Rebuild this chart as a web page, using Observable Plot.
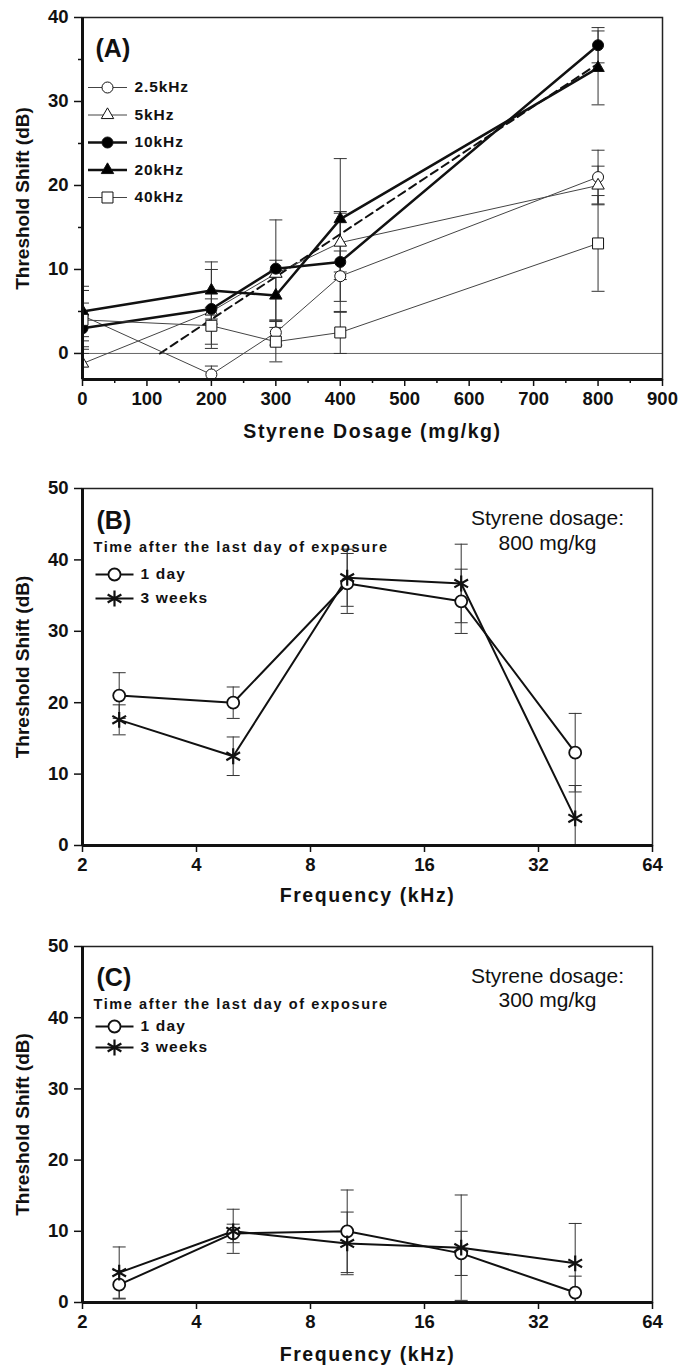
<!DOCTYPE html>
<html>
<head>
<meta charset="utf-8">
<script src="https://cdn.jsdelivr.net/npm/d3@7"></script>
<script src="https://cdn.jsdelivr.net/npm/@observablehq/plot@0.6"></script>
<style>
  html, body { margin: 0; padding: 0; background: #fff; }
  #chart { width: 690px; }
  #chart svg { display: block; }
</style>
</head>
<body>
<div id="chart"></div>
<script>
// ---------- Panel A data ----------
const dosage = [0, 200, 300, 400, 800];
const seriesA = ["2.5kHz", "5kHz", "10kHz", "20kHz", "40kHz"];
const a2_5 = [4.5, -2.5, 2.5, 9.2, 21.0];
const a5 = [-1.2, 5.0, 9.5, 13.2, 20.0];
const a10 = [3.0, 5.3, 10.1, 10.9, 36.7];
const a20 = [5.0, 7.5, 6.9, 16.0, 34.0];
const a40 = [4.0, 3.3, 1.4, 2.5, 13.1];
const a2_5err = [3.0, 1.0, 1.5, 3.0, 3.2];
const a5err = [2.0, 1.5, 6.4, 3.5, 2.3];
const a10err = [3.0, 4.7, 1.0, 6.0, 2.1];
const a20err = [3.0, 3.4, 3.0, 7.2, 4.4];
const a40err = [3.5, 2.2, 2.4, 2.5, 5.7];
const regDose = [120, 800];
const regShift = [0, 34.5];
const dosageTicks = [0, 100, 200, 300, 400, 500, 600, 700, 800, 900];
const dosageMinor = [50, 150, 250, 350, 450, 550, 650, 750, 850];
const shiftTicksA = [0, 10, 20, 30, 40];
const shiftMinorA = [5, 15, 25, 35];

// ---------- Panels B / C data ----------
const freq = [2.5, 5, 10, 20, 40];
const freqTicks = [2, 4, 8, 16, 32, 64];
const shiftTicksBC = [0, 10, 20, 30, 40, 50];
const groups = ["1 day", "3 weeks"];
const b1day = [21.0, 20.0, 36.7, 34.2, 13.0];
const b1dayErr = [3.2, 2.2, 4.2, 4.5, 5.5];
const b3wk = [17.6, 12.5, 37.5, 36.7, 3.8];
const b3wkErr = [2.1, 2.7, 4.0, 5.5, 4.6];
const c1day = [2.5, 9.7, 10.0, 6.9, 1.4];
const c1dayErr = [2.0, 1.3, 5.8, 3.1, 2.3];
const c3wk = [4.2, 10.0, 8.3, 7.7, 5.5];
const c3wkErr = [3.6, 3.1, 4.4, 7.4, 5.6];

const TIME_LABEL = "Time after the last day of exposure";
const FONT = "'Liberation Sans', Arial, Helvetica, sans-serif";
const TICK_FS = 18.5;

// horizontal line "symbol" (used for error caps and legend lines)
const hline = {
  draw(ctx, size) {
    const w = Math.sqrt(size / Math.PI);
    ctx.moveTo(-w, 0);
    ctx.lineTo(w, 0);
  }
};

function rows(xs, ys, es) {
  return xs.map((x, i) => ({x, y: ys[i], lo: ys[i] - es[i], hi: ys[i] + es[i]}));
}

function errorMarks(data, capR) {
  return [
    Plot.ruleX(data, {x: "x", y1: "lo", y2: "hi", stroke: "#333", strokeWidth: 1, clip: true}),
    Plot.dot(data, {x: "x", y: "hi", symbol: hline, r: capR, stroke: "#333", strokeWidth: 1, clip: true}),
    Plot.dot(data, {x: "x", y: "lo", symbol: hline, r: capR, stroke: "#333", strokeWidth: 1, clip: true})
  ];
}

function frameMarks(xDom, yDom) {
  return [
    Plot.frame({stroke: "#222", strokeWidth: 1.5}),
    Plot.ruleX([xDom[0]], {stroke: "#111", strokeWidth: 3}),
    Plot.ruleY([yDom[0]], {stroke: "#111", strokeWidth: 3})
  ];
}

function yTitle(label) {
  return Plot.text([label], {frameAnchor: "left", dx: -60, rotate: -90, textAnchor: "middle", lineAnchor: "middle", fontSize: 19, fontWeight: "bold"});
}
function xTitle(label, dy) {
  return Plot.text([label], {frameAnchor: "bottom", dy, textAnchor: "middle", lineAnchor: "middle", fontSize: 19.5, fontWeight: "bold"});
}

// ---------- Panel A ----------
const styleA = [
  {name: seriesA[0], y: a2_5, e: a2_5err, symbol: "circle", fill: "white", r: 5.5, sw: 1, stroke: "#444"},
  {name: seriesA[1], y: a5, e: a5err, symbol: "triangle", fill: "white", r: 4.6, sw: 1, stroke: "#444"},
  {name: seriesA[2], y: a10, e: a10err, symbol: "circle", fill: "black", r: 5.5, sw: 2.5, stroke: "#111"},
  {name: seriesA[3], y: a20, e: a20err, symbol: "triangle", fill: "black", r: 4.6, sw: 2.5, stroke: "#111"},
  {name: seriesA[4], y: a40, e: a40err, symbol: "square", fill: "white", r: 6.2, sw: 1, stroke: "#444"}
];
const xDomA = [0, 900], yDomA = [-3.1, 40];
const marksA = [
  Plot.ruleY([0], {stroke: "#666", strokeWidth: 1})
];
styleA.forEach(s => marksA.push(...errorMarks(rows(dosage, s.y, s.e), 6.5)));
marksA.push(Plot.line(regDose.map((x, i) => ({x, y: regShift[i]})), {x: "x", y: "y", stroke: "#111", strokeWidth: 2, strokeDasharray: "8,5"}));
styleA.forEach(s => {
  const d = rows(dosage, s.y, s.e);
  marksA.push(Plot.line(d, {x: "x", y: "y", stroke: s.stroke, strokeWidth: s.sw}));
});
styleA.forEach(s => {
  const d = rows(dosage, s.y, s.e);
  marksA.push(Plot.dot(d, {x: "x", y: "y", symbol: s.symbol, r: s.r, fill: s.fill, stroke: "#111", strokeWidth: 1, clip: true}));
});
// legend A
styleA.forEach((s, i) => {
  const dy = 70 + i * 27.5;
  marksA.push(Plot.dot([s.name], {frameAnchor: "top-left", dx: 25, dy, symbol: hline, r: 19.5, stroke: s.stroke, strokeWidth: s.sw}));
  marksA.push(Plot.dot([s.name], {frameAnchor: "top-left", dx: 25, dy, symbol: s.symbol, r: s.r, fill: s.fill, stroke: "#111", strokeWidth: 1}));
  marksA.push(Plot.text([s.name], {frameAnchor: "top-left", dx: 52, dy, lineAnchor: "middle", textAnchor: "start", fontSize: 15.5, fontWeight: "bold"}));
});
marksA.push(Plot.text(["(A)"], {frameAnchor: "top-left", dx: 13, dy: 31, lineAnchor: "middle", textAnchor: "start", fontSize: 25, fontWeight: "bold"}));
marksA.push(...frameMarks(xDomA, yDomA));
marksA.push(Plot.axisY({ticks: shiftTicksA, tickSize: 8, tickPadding: 6, strokeWidth: 1.5, fontSize: TICK_FS, fontWeight: "bold", label: null}));
marksA.push(Plot.axisY({ticks: shiftMinorA, tickSize: 4, strokeWidth: 1.5, tickFormat: () => "", label: null}));
marksA.push(Plot.axisX({ticks: dosageTicks, tickSize: 7, tickPadding: 5, strokeWidth: 1.5, fontSize: TICK_FS, fontWeight: "bold", label: null}));
marksA.push(Plot.axisX({ticks: dosageMinor, tickSize: 4, strokeWidth: 1.5, tickFormat: () => "", label: null}));
marksA.push(yTitle("Threshold Shift (dB)"));
marksA.push(xTitle("Styrene Dosage (mg/kg)", 52));

const plotA = Plot.plot({
  width: 690, height: 450,
  marginTop: 17, marginBottom: 71, marginLeft: 82, marginRight: 28,
  style: {fontFamily: FONT, fontSize: "16px", color: "#111", background: "white"},
  x: {domain: xDomA},
  y: {domain: yDomA},
  marks: marksA
});

// ---------- Panels B and C ----------
function freqPanel({height, marginTop, marginBottom, tag, dose, d1, e1, d3, e3, dys, xTitleDy}) {
  const xDom = [2, 64], yDom = [0, 50];
  const r1 = rows(freq, d1, e1), r3 = rows(freq, d3, e3);
  const marks = [];
  marks.push(...errorMarks(r1, 6.5), ...errorMarks(r3, 6.5));
  marks.push(Plot.line(r1, {x: "x", y: "y", stroke: "#111", strokeWidth: 2}));
  marks.push(Plot.line(r3, {x: "x", y: "y", stroke: "#111", strokeWidth: 2}));
  marks.push(Plot.dot(r1, {x: "x", y: "y", symbol: "circle", r: 6, fill: "white", stroke: "#111", strokeWidth: 1.8, clip: true}));
  marks.push(Plot.dot(r3, {x: "x", y: "y", symbol: "asterisk", r: 7.5, stroke: "#111", strokeWidth: 2.2, clip: true}));
  // texts
  marks.push(Plot.text([tag], {frameAnchor: "top-left", dx: 14, dy: dys.tag, lineAnchor: "middle", textAnchor: "start", fontSize: 25, fontWeight: "bold"}));
  marks.push(Plot.text([TIME_LABEL], {frameAnchor: "top-left", dx: 11, dy: dys.time, lineAnchor: "middle", textAnchor: "start", fontSize: 14.5, fontWeight: "bold"}));
  groups.forEach((g, i) => {
    const dy = dys.leg[i];
    marks.push(Plot.dot([g], {frameAnchor: "top-left", dx: 32, dy, symbol: hline, r: 19, stroke: "#111", strokeWidth: 2}));
    if (i === 0) marks.push(Plot.dot([g], {frameAnchor: "top-left", dx: 32, dy, symbol: "circle", r: 6, fill: "white", stroke: "#111", strokeWidth: 1.8}));
    else marks.push(Plot.dot([g], {frameAnchor: "top-left", dx: 32, dy, symbol: "asterisk", r: 7.5, stroke: "#111", strokeWidth: 2.2}));
    marks.push(Plot.text([g], {frameAnchor: "top-left", dx: 58, dy, lineAnchor: "middle", textAnchor: "start", fontSize: 15.5, fontWeight: "bold"}));
  });
  marks.push(Plot.text(["Styrene dosage:"], {frameAnchor: "top-left", dx: 465, dy: dys.dose1, lineAnchor: "middle", textAnchor: "middle", fontSize: 21, fontWeight: "normal"}));
  marks.push(Plot.text([dose], {frameAnchor: "top-left", dx: 465, dy: dys.dose2, lineAnchor: "middle", textAnchor: "middle", fontSize: 21, fontWeight: "normal"}));
  marks.push(...frameMarks(xDom, yDom));
  marks.push(Plot.axisY({ticks: shiftTicksBC, tickSize: 8, tickPadding: 6, strokeWidth: 1.5, fontSize: TICK_FS, fontWeight: "bold", label: null}));
  marks.push(Plot.axisX({ticks: freqTicks, tickSize: 7, tickPadding: 5, strokeWidth: 1.5, fontSize: TICK_FS, fontWeight: "bold", tickFormat: d => String(d), label: null}));
  marks.push(yTitle("Threshold Shift (dB)"));
  marks.push(xTitle("Frequency (kHz)", xTitleDy));
  return Plot.plot({
    width: 690, height,
    marginTop, marginBottom, marginLeft: 82, marginRight: 38,
    style: {fontFamily: FONT, fontSize: "16px", color: "#111", background: "white"},
    x: {type: "log", base: 2, domain: xDom},
    y: {domain: yDom},
    marks
  });
}

const plotB = freqPanel({
  height: 470, marginTop: 38, marginBottom: 75, tag: "(B)", dose: "800 mg/kg",
  d1: b1day, e1: b1dayErr, d3: b3wk, e3: b3wkErr,
  dys: {tag: 32, time: 59, leg: [86, 110], dose1: 30, dose2: 55}, xTitleDy: 50
});
const plotC = freqPanel({
  height: 447, marginTop: 26, marginBottom: 65, tag: "(C)", dose: "300 mg/kg",
  d1: c1day, e1: c1dayErr, d3: c3wk, e3: c3wkErr,
  dys: {tag: 31, time: 58, leg: [80, 101], dose1: 30, dose2: 54}, xTitleDy: 52
});

// letter spacing for the widely-spaced labels of the original figure
const spacing = new Map([
  ...seriesA.map(s => [s, "0.9px"]),
  ...groups.map(g => [g, "1.2px"]),
  [TIME_LABEL, "1.6px"],
  ["Styrene Dosage (mg/kg)", "1.6px"],
  ["Frequency (kHz)", "1.6px"]
]);
const chart = document.getElementById("chart");
[plotA, plotB, plotC].forEach(svg => {
  svg.querySelectorAll("text").forEach(t => {
    const s = spacing.get(t.textContent);
    if (s) t.style.letterSpacing = s;
  });
  chart.append(svg);
});
</script>
</body>
</html>
